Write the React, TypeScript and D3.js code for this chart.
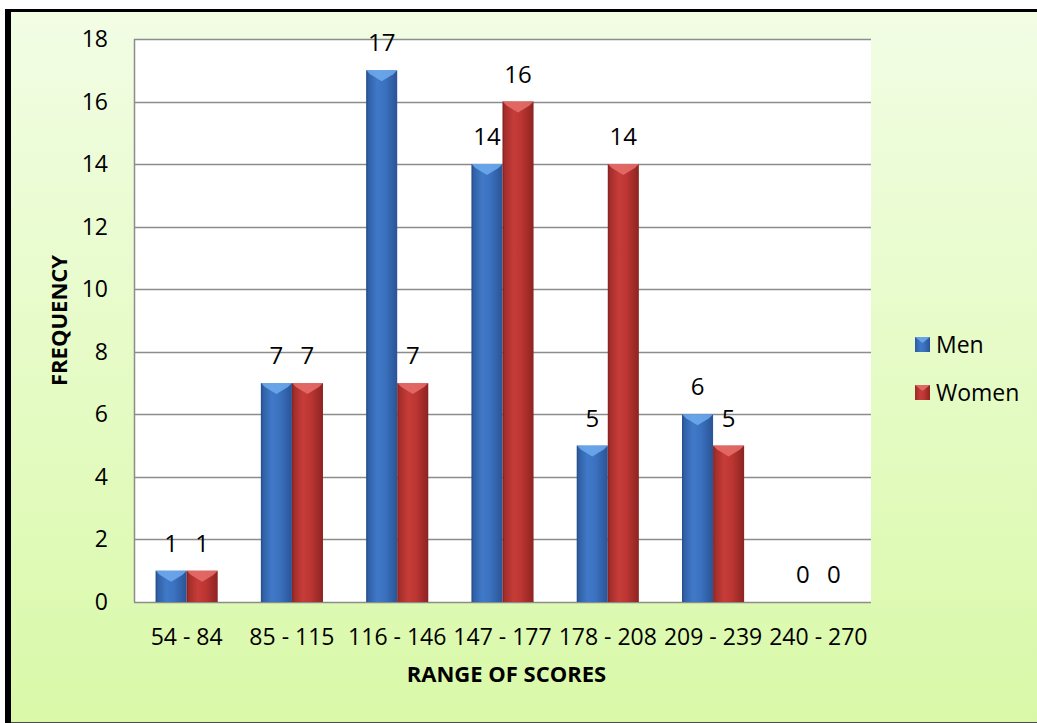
import * as d3 from "d3";

const width = 1037;
const height = 723;

const categories = ["54 - 84", "85 - 115", "116 - 146", "147 - 177", "178 - 208", "209 - 239", "240 - 270"];
const seriesNames = ["Men", "Women"];
const men = [1, 7, 17, 14, 5, 6, 0];
const women = [1, 7, 7, 16, 14, 5, 0];
const yTicks = [0, 2, 4, 6, 8, 10, 12, 14, 16, 18];

const font = "'Open Sans', 'Liberation Sans', sans-serif";

// plot area
const plot = { left: 134, right: 871, top: 39, bottom: 602 };

export default function App() {
  const x = d3
    .scaleBand<string>()
    .domain(categories)
    .range([plot.left, plot.right])
    .paddingInner(0.41)
    .paddingOuter(0.205);
  const xs = d3.scaleBand<string>().domain(seriesNames).range([0, x.bandwidth()]);
  const y = d3.scaleLinear().domain([0, 18]).range([plot.bottom, plot.top]);

  const series = [
    { name: "Men", values: men, grad: "gBlue", top: "#70abee" },
    { name: "Women", values: women, grad: "gRed", top: "#e8706c" },
  ];

  return (
    <svg
      width={width}
      height={height}
      style={{ position: "fixed", left: 0, top: 0 }}
      fontFamily={font}
    >
      <defs>
        <linearGradient id="bg" x1="0" y1="0" x2="0" y2="1">
          <stop offset="0" stopColor="#f2fde4" />
          <stop offset="1" stopColor="#d9f9a8" />
        </linearGradient>
        <linearGradient id="gBlue" x1="0" y1="0" x2="1" y2="0">
          <stop offset="0" stopColor="#2c5a9e" />
          <stop offset="0.35" stopColor="#4079c8" />
          <stop offset="0.6" stopColor="#3b72c0" />
          <stop offset="1" stopColor="#2a5496" />
        </linearGradient>
        <linearGradient id="gRed" x1="0" y1="0" x2="1" y2="0">
          <stop offset="0" stopColor="#9a2a28" />
          <stop offset="0.35" stopColor="#c63c38" />
          <stop offset="0.6" stopColor="#bd3633" />
          <stop offset="1" stopColor="#8c2422" />
        </linearGradient>
      </defs>

      <rect x={0} y={0} width={width} height={height} fill="#ffffff" />
      <rect x={11} y={12} width={width - 11} height={height - 12} fill="url(#bg)" />
      {/* frame */}
      <rect x={5} y={9} width={6} height={height - 9} fill="#000" />
      <rect x={5} y={9} width={width - 5} height={3} fill="#000" />
      <rect x={11} y={height - 1} width={width - 11} height={1} fill="#4a4a4a" />

      {/* plot area */}
      <rect
        x={plot.left}
        y={plot.top}
        width={plot.right - plot.left}
        height={plot.bottom - plot.top}
        fill="#fff"
      />
      {yTicks.map((t) => (
        <g key={t}>
          <line
            x1={plot.left}
            x2={plot.right}
            y1={Math.round(y(t)) + 0.5}
            y2={Math.round(y(t)) + 0.5}
            stroke="#8c8c8c"
            strokeWidth={1.5}
          />
          <text
            x={108}
            y={y(t)}
            dy="0.35em"
            textAnchor="end"
            fontSize={23}
            fill="#000"
          >
            {t}
          </text>
        </g>
      ))}
      <line x1={plot.left + 0.5} x2={plot.left + 0.5} y1={plot.top} y2={plot.bottom} stroke="#8c8c8c" strokeWidth={1.5} />

      {/* bars */}
      {series.map((s) =>
        s.values.map((v, i) => {
          const bx = (x(categories[i]) ?? 0) + (xs(s.name) ?? 0);
          const bw = xs.bandwidth();
          const by = y(v);
          const bh = y(0) - by;
          return (
            <g key={s.name + i}>
              {v > 0 && (
                <>
                  <rect x={bx} y={by} width={bw} height={bh} fill={`url(#${s.grad})`} />
                  <path
                    d={`M${bx},${by}L${bx + bw},${by}L${bx + bw - 4},${by + 4}L${bx + bw / 2},${by + 11}L${bx + 4},${by + 4}Z`}
                    fill={s.top}
                    opacity={0.85}
                  />
                  <rect x={bx} y={by} width={1.5} height={bh} fill="#000" opacity={0.12} />
                </>
              )}
              <text
                x={bx + bw / 2}
                y={by - 19}
                textAnchor="middle"
                fontSize={24}
                fill="#000"
              >
                {v}
              </text>
            </g>
          );
        })
      )}

      {/* x tick labels */}
      {categories.map((c) => (
        <text
          key={c}
          x={(x(c) ?? 0) + x.bandwidth() / 2}
          y={637}
          dy="0.35em"
          textAnchor="middle"
          fontSize={23}
          fill="#000"
        >
          {c}
        </text>
      ))}

      <text
        x={(plot.left + plot.right) / 2 + 4}
        y={674}
        dy="0.35em"
        textAnchor="middle"
        fontSize={22}
        fontWeight="bold"
        fill="#000"
      >
        RANGE OF SCORES
      </text>
      <text
        transform={`translate(59,${(plot.top + plot.bottom) / 2}) rotate(-90)`}
        dy="0.35em"
        textAnchor="middle"
        fontSize={22}
        fontWeight="bold"
        fill="#000"
      >
        FREQUENCY
      </text>

      {/* legend */}
      {series.map((s, i) => (
        <g key={s.name} transform={`translate(915,${337 + i * 48})`}>
          <rect width={15} height={15} fill={`url(#${s.grad})`} />
          <path d="M0,0L15,0L7.5,6Z" fill={s.top} opacity={0.85} />
          <text x={21} y={7.5} dy="0.35em" fontSize={23} fill="#000">
            {s.name}
          </text>
        </g>
      ))}
    </svg>
  );
}
